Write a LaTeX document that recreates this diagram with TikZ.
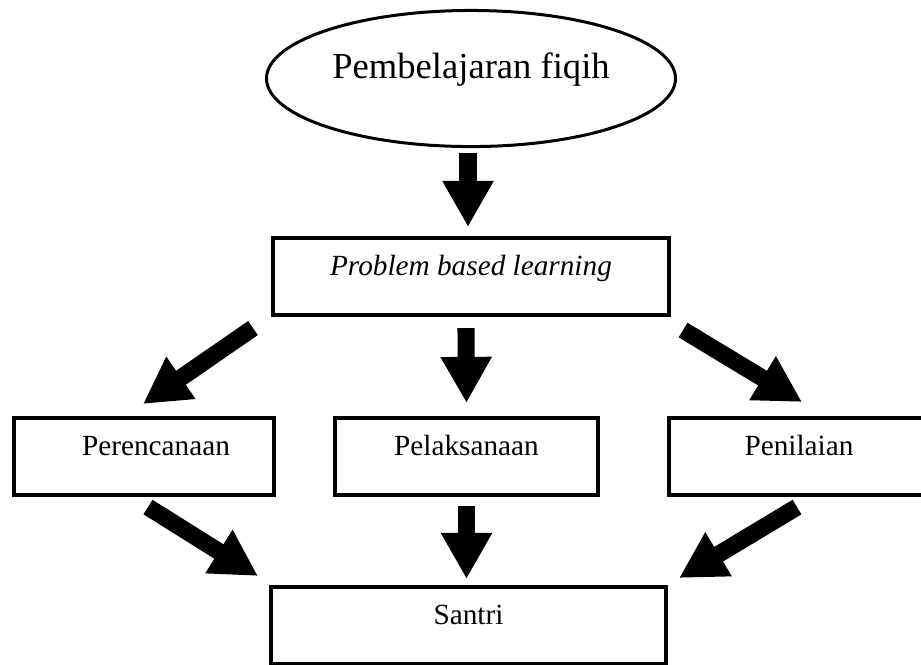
\documentclass[tikz,border=0pt]{standalone}
\usepackage{fontspec}
\setmainfont{Liberation Serif}
\usetikzlibrary{shapes.geometric, arrows.meta, calc}

\tikzset{
	txt/.style = {font=\fontsize{12}{14}\selectfont, text height=8pt, text depth=9pt, inner sep=0pt},
	box/.style = {txt, draw, line width=1.64pt, minimum height=31.6pt},
	bigarrow/.style = {line width=7pt, -{Triangle[width=19.7pt, length=18.9pt]}}
}

\begin{document}
\begin{tikzpicture}[x=0.41pt, y=-0.41pt]
	\useasboundingbox (0,0) rectangle (921,664);
	\clip (0,0) rectangle (921,664);

	% nodes
	\node[txt, font=\fontsize{15}{18}\selectfont, text height=9pt, text depth=9pt, ellipse, draw, line width=1.23pt, minimum width=167.7pt, minimum height=55.8pt] (ell) at (471,78.5) {Pembelajaran fiqih};
	\node[box, minimum width=162.4pt] (pbl) at (471,276.5) {\textit{Problem based learning}};
	\node[box, minimum width=106.6pt] (per) at (144,456.5) {\hspace*{9.8pt}Perencanaan};
	\node[box, minimum width=107.8pt] (pel) at (466.5,456.5) {Pelaksanaan};
	\node[box, minimum width=106.6pt] (pen) at (799,456.5) {Penilaian};
	\node[box, minimum width=162pt] (san) at (468.5,625.5) {Santri};

	% arrows
	\draw[bigarrow] ($(ell.south)+(-3,5)$) -- ($(pbl.north)+(-3,-9)$);
	\draw[bigarrow] ($(pbl.south west)+(-18,11)$) -- ($(per.north)+(-1,-12)$);
	\draw[bigarrow] ($(pbl.south)+(-5,11)$) -- ($(pel.north)+(0,-13)$);
	\draw[bigarrow] ($(pbl.south east)+(12,13)$) -- ($(pen.north)+(3,-14)$);
	\draw[bigarrow] ($(per.south)+(4,10)$) -- ($(san.north west)+(-11,-9)$);
	\draw[bigarrow] ($(pel.south)+(0,9)$) -- ($(san.north)+(-2,-6)$);
	\draw[bigarrow] ($(pen.south)+(-2,10)$) -- ($(san.north east)+(11,-7)$);
\end{tikzpicture}
\end{document}
